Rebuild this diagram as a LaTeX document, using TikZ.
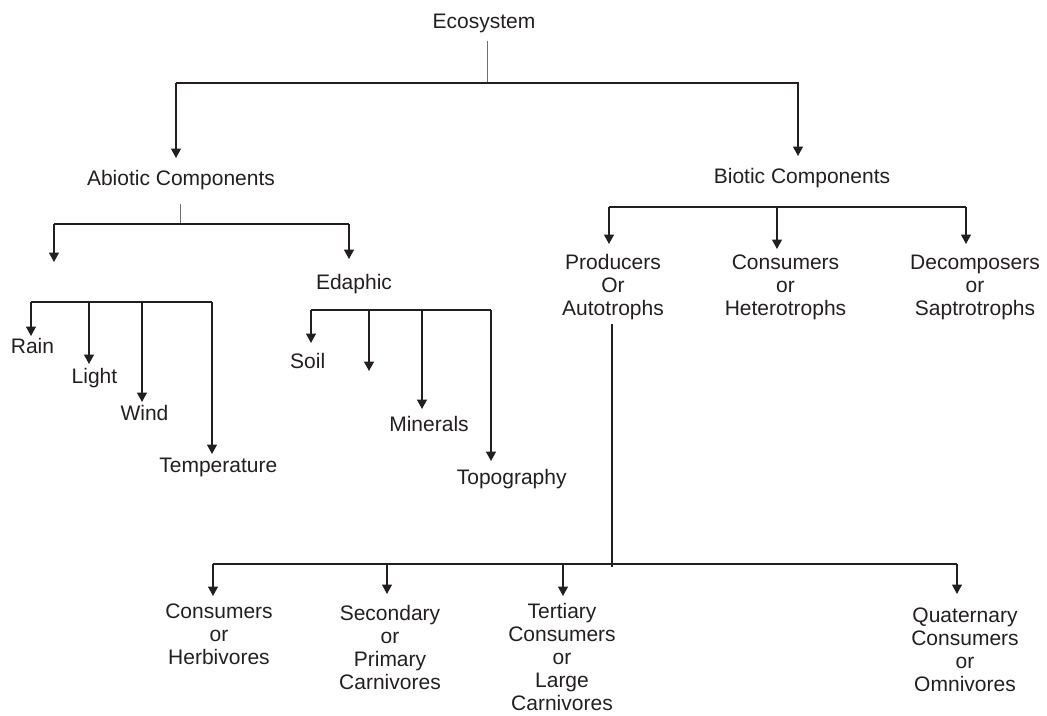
\documentclass[tikz,border=0pt]{standalone}
\usepackage{fontspec}
\setmainfont{Liberation Sans}
\usetikzlibrary{arrows.meta}
\definecolor{ink}{HTML}{231F20}
\definecolor{stemgray}{HTML}{6E6E6E}
\begin{document}
\begin{tikzpicture}[x=1pt,y=-1pt,
  lbl/.style={inner sep=0pt, outer sep=0pt, font=\fontsize{21}{23}\selectfont, align=center, text=ink},
  conn/.style={draw=ink, line width=1.4pt},
  arr/.style={conn, -{Triangle[width=10pt,length=9.5pt]}},
  thinstem/.style={draw=stemgray, line width=0.9pt},
  darkstem/.style={draw=ink, line width=1.1pt}]
\useasboundingbox (0,0) rectangle (1047,715);

% ---------- text nodes ----------
\node[lbl] (eco)   at (484,23.5)   {Ecosystem};
\node[lbl] (abio)  at (181,179.7)  {Abiotic Components};
\node[lbl] (bio)   at (802,177.7)  {Biotic Components};
\node[lbl] (eda)   at (354,283.7)  {Edaphic};
\node[lbl] (rain)  at (32.5,345.5) {Rain};
\node[lbl] (light) at (94.5,378)   {Light};
\node[lbl] (wind)  at (144.5,413)  {Wind};
\node[lbl] (temp)  at (218.3,467.7){Temperature};
\node[lbl] (soil)  at (307.7,361)  {Soil};
\node[lbl] (min)   at (429,423.5)  {Minerals};
\node[lbl] (topo)  at (511.7,478.7){Topography};
\node[lbl] (prod)  at (613,287.2)  {Producers\\Or\\Autotrophs};
\node[lbl] (cons)  at (785.5,287)  {Consumers\\or\\Heterotrophs};
\node[lbl] (deco)  at (975,287)    {Decomposers\\or\\Saptrotrophs};
\node[lbl] (herb)  at (219,634)    {Consumers\\or\\Herbivores};
\node[lbl] (sec)   at (390,647)    {Secondary\\or\\Primary\\Carnivores};
\node[lbl] (ter)   at (562,656.5)  {Tertiary\\Consumers\\or\\Large\\Carnivores};
\node[lbl] (quat)  at (965,649.5)  {Quaternary\\Consumers\\or\\Omnivores};

% ---------- junction coordinates ----------
\coordinate (ecoS) at (487,41);
\coordinate (tJ)   at (487,83);
\coordinate (tL)   at (176,83);
\coordinate (tR)   at (799,83);
\coordinate (tRa)  at (798,83);
\coordinate (abioTip) at (176,158);
\coordinate (bioTip)  at (798,156);

\coordinate (abioS) at (180,204);
\coordinate (aJ)    at (180,224);
\coordinate (aL)    at (54,224);
\coordinate (aR)    at (349,224);
\coordinate (aLtip) at (54,262);
\coordinate (aRtip) at (349,259);

\coordinate (cL)  at (31,302);
\coordinate (c2)  at (89,302);
\coordinate (c3)  at (142,302);
\coordinate (cR)  at (212,302);
\coordinate (rainTip)  at (31,336);
\coordinate (lightTip) at (89,364);
\coordinate (windTip)  at (142,402);
\coordinate (tempTip)  at (212,454);

\coordinate (eL) at (311,310);
\coordinate (e2) at (369,310);
\coordinate (e3) at (422,310);
\coordinate (eR) at (491,310);
\coordinate (soilTip) at (311,343);
\coordinate (e2Tip)   at (369,371);
\coordinate (minTip)  at (422,409);
\coordinate (topoTip) at (491,461);

\coordinate (bL) at (609,207);
\coordinate (bM) at (777,207);
\coordinate (bR) at (966,207);
\coordinate (prodTip) at (609,244);
\coordinate (consTip) at (777,249);
\coordinate (decoTip) at (966,244);

\coordinate (pS) at (612,324);
\coordinate (pE) at (612,567);
\coordinate (lL) at (213,564);
\coordinate (l2) at (387,564);
\coordinate (l3) at (563,564);
\coordinate (lR) at (957,564);
\coordinate (herbTip) at (213,596);
\coordinate (secTip)  at (387,594);
\coordinate (terTip)  at (563,596);
\coordinate (quatTip) at (957,594);

% ---------- connectors ----------
\draw[thinstem] (ecoS) -- (tJ);
\draw[conn] (tL) -- (tR);
\draw[arr] (tL) -- (abioTip);
\draw[arr] (tRa) -- (bioTip);

\draw[thinstem] (abioS) -- (aJ);
\draw[conn] (aL) -- (aR);
\draw[arr] (aL) -- (aLtip);
\draw[arr] (aR) -- (aRtip);

\draw[conn] (cL) -- (cR);
\draw[arr] (cL) -- (rainTip);
\draw[arr] (c2) -- (lightTip);
\draw[arr] (c3) -- (windTip);
\draw[arr] (cR) -- (tempTip);

\draw[conn] (eL) -- (eR);
\draw[arr] (eL) -- (soilTip);
\draw[arr] (e2) -- (e2Tip);
\draw[arr] (e3) -- (minTip);
\draw[arr] (eR) -- (topoTip);

\draw[conn] (bL) -- (bR);
\draw[arr] (bL) -- (prodTip);
\draw[arr] (bM) -- (consTip);
\draw[arr] (bR) -- (decoTip);

\draw[darkstem] (pS) -- (pE);
\draw[conn] (lL) -- (lR);
\draw[arr] (lL) -- (herbTip);
\draw[arr] (l2) -- (secTip);
\draw[arr] (l3) -- (terTip);
\draw[arr] (lR) -- (quatTip);
\end{tikzpicture}
\end{document}
